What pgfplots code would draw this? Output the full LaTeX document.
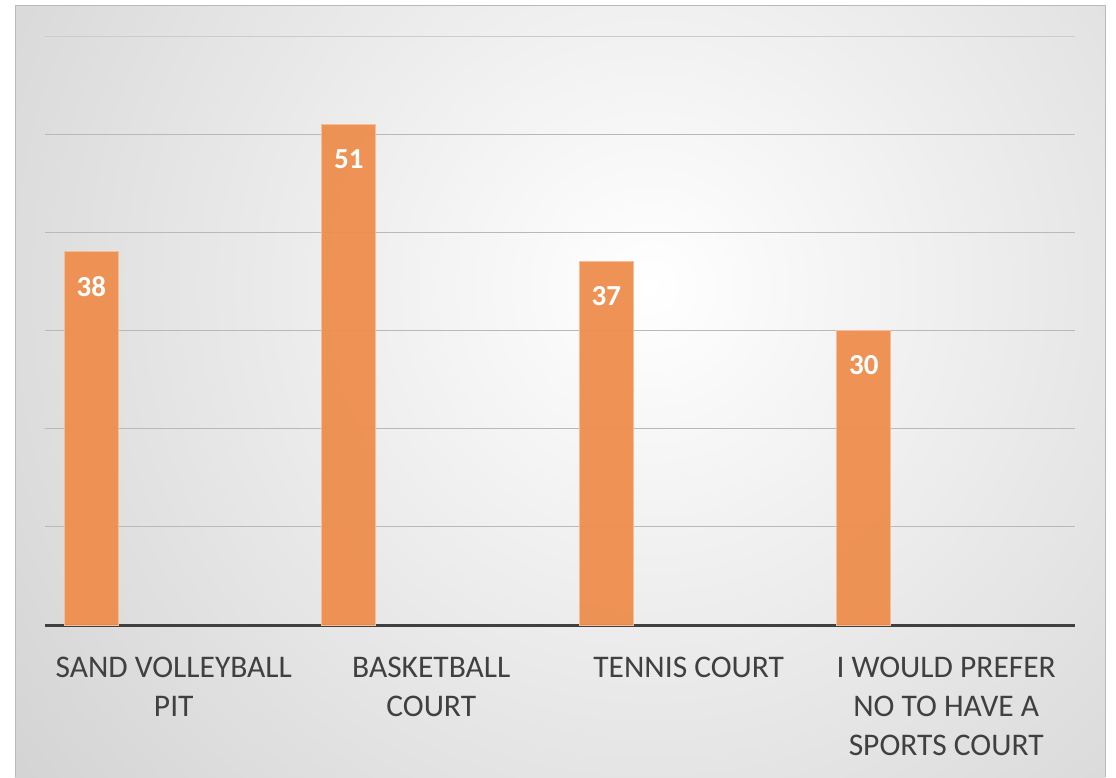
\documentclass[border=0pt]{standalone}
\usepackage{fontspec}
\setmainfont{Carlito}
\usepackage{pgfplots}
\pgfplotsset{compat=1.18}
\definecolor{barorange}{RGB}{238,142,77}
\definecolor{baredge}{RGB}{246,190,150}
\definecolor{gridgray}{RGB}{185,185,185}
\definecolor{axisdark}{RGB}{64,64,64}
\definecolor{labelgray}{RGB}{64,64,64}
\definecolor{bgedge}{RGB}{190,190,190}
\begin{document}
\begin{tikzpicture}[x=1pt,y=1pt]
\useasboundingbox (0,0) rectangle (1116,777);
% chart area with soft radial background
\begin{scope}
  \clip (15,0) rectangle (1105,771);
  \shade[inner color=white, outer color=bgedge] (650,490) circle (1200);
\end{scope}
\draw[gray!55, line width=1pt] (15,0) -- (15,771) -- (1105,771) -- (1105,0);

\begin{axis}[
    at={(45pt,152pt)}, anchor=south west,
    scale only axis, width=1030pt, height=589pt,
    xmin=-0.5, xmax=3.5, ymin=0, ymax=60,
    axis x line=bottom, axis y line=left,
    x axis line style={-, line width=3pt, color=axisdark},
    y axis line style={draw=none},
    xtick={0,1,2,3},
    xticklabels={{SAND VOLLEYBALL\\PIT},{BASKETBALL\\COURT},{TENNIS COURT},{I WOULD PREFER\\NO TO HAVE A\\SPORTS COURT}},
    xticklabel style={font=\fontsize{31.5}{39}\selectfont, text=labelgray, align=center, anchor=north, yshift=-29pt},
    ytick={10,20,30,40,50}, yticklabels={},
    extra y ticks={60}, extra y tick labels={},
    extra y tick style={grid style={gray!40, line width=1pt}},
    major tick length=0pt,
    ymajorgrids, grid style={gridgray, line width=1.2pt},
    ybar, bar width=0.21, bar shift=-0.32,
    nodes near coords,
    /pgf/number format/assume math mode=true,
    every node near coord/.append style={font=\bfseries\fontsize{29}{32}\selectfont, text=white, anchor=north, yshift=-21pt},
]
\addplot[fill=barorange, fill opacity=0.95, draw=baredge, line width=1pt, text opacity=1]
  coordinates {(0,38) (1,51) (2,37) (3,30)};
\end{axis}
\end{tikzpicture}
\end{document}
